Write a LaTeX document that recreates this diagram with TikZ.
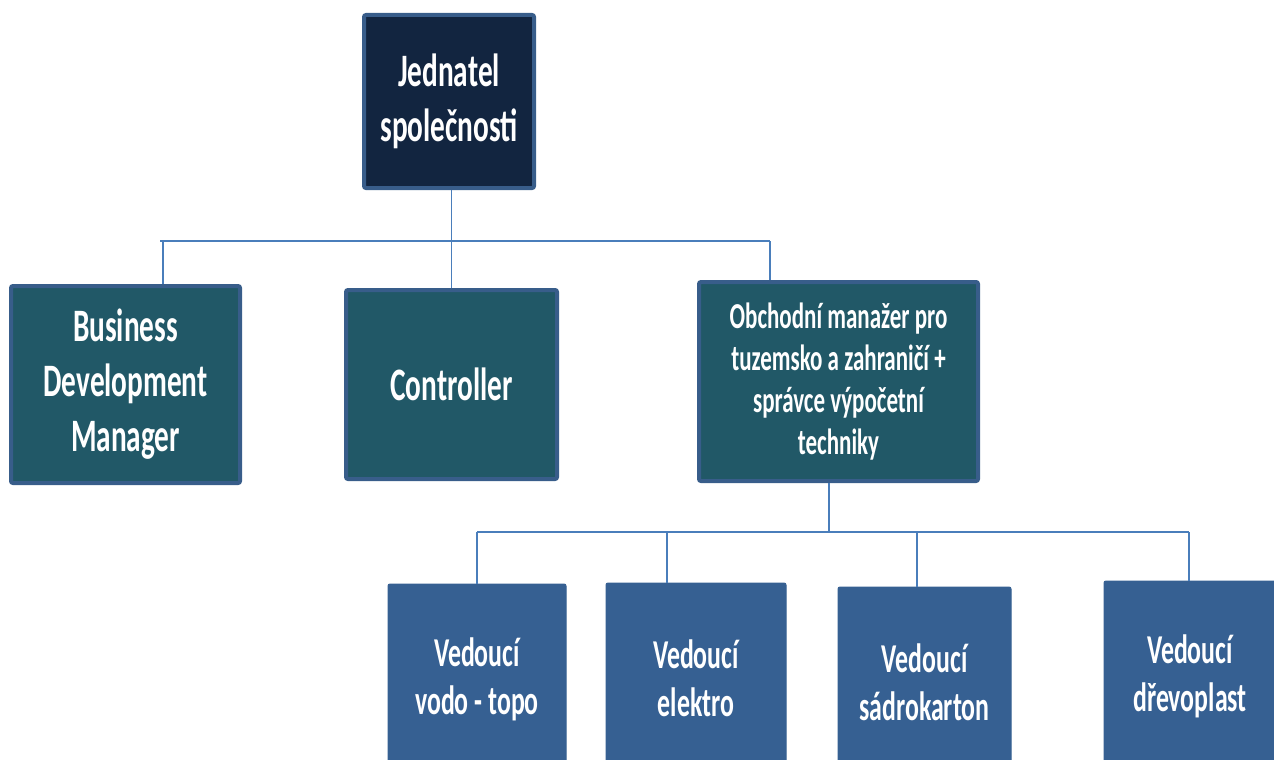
\documentclass[tikz,border=0pt]{standalone}
\usepackage{fontspec}
\setmainfont{Carlito}[FakeStretch=0.63]
\usetikzlibrary{positioning}
\definecolor{Navy}{RGB}{18,37,64}
\definecolor{Teal}{RGB}{33,88,103}
\definecolor{Steel}{RGB}{54,96,146}
\definecolor{Edge}{RGB}{56,93,138}
\definecolor{Wire}{RGB}{74,126,187}

\begin{document}
\begin{tikzpicture}[x=1pt,y=-1pt]
          \tikzset{ boss/.style ={draw=Edge, line width=4pt, fill=Navy, rounded corners=2pt, text=white, align=center, font=\fontsize{46.5}{55}\selectfont\bfseries} }
          \tikzset{ mgr/.style  ={draw=Edge, line width=4pt, fill=Teal, rounded corners=2pt, text=white, align=center} }
          \tikzset{ lead/.style ={draw=Steel, line width=1pt, fill=Steel, rounded corners=2pt, text=white, align=center, minimum height=190pt, font=\fontsize{41}{48}\selectfont\bfseries} }
          \tikzset{ link/.style ={draw=Wire, line width=1.5pt} }

          \useasboundingbox (0,0) rectangle (1274,760);
          \clip (0,0) rectangle (1274,760);

          \node[boss, minimum width=170pt, minimum height=173pt] (ceo) at (449,101.5) {Jednatel\\společnosti};

          \node[mgr, minimum width=229pt, minimum height=197pt, font=\fontsize{46.5}{55}\selectfont\bfseries] (bdm)   at (125.5,384.5) {Business\\Development\\Manager};
          \node[mgr, minimum width=211pt, minimum height=189pt, font=\fontsize{46.5}{55}\selectfont\bfseries] (ctrl)  at (451.5,384.5) {Controller};
          \node[mgr, minimum width=279pt, minimum height=199pt, font=\fontsize{36.5}{42}\selectfont\bfseries] (sales) at (838.5,381.5) {Obchodní manažer pro\\tuzemsko a zahraničí +\\správce výpočetní\\techniky};

          \node[lead, minimum width=178pt] (v1) at (477,679)    {Vedoucí\\vodo - topo};
          \node[lead, minimum width=180pt] (v2) at (696,678)    {Vedoucí\\elektro};
          \node[lead, minimum width=173pt] (v3) at (924.5,682)  {Vedoucí\\sádrokarton};
          \node[lead, minimum width=172pt] (v4) at (1190,676)   {Vedoucí\\dřevoplast};

          % upper level
          \coordinate (busA) at (160,241);
          \coordinate (busB) at (770,241);
          \coordinate (tapA) at (163,241);
          \draw[link] (busA) -- (busB);
          \draw[link] (ctrl.north) -- (ctrl.north |- ceo.south);
          \draw[link] (tapA) -- (tapA |- bdm.north);
          \draw[link] (busB) -- (busB |- sales.north);

          % lower level
          \coordinate (busC) at (477,532);
          \coordinate (busD) at (1189,532);
          \coordinate (tapS) at (829,532);
          \coordinate (tapE) at (667,532);
          \coordinate (tapF) at (917,532);
          \draw[link] (busC) -- (busD);
          \draw[link] (tapS |- sales.south) -- (tapS);
          \draw[link] (busC) -- (v1.north);
          \draw[link] (tapE) -- (tapE |- v2.north);
          \draw[link] (tapF) -- (tapF |- v3.north);
          \draw[link] (busD) -- (busD |- v4.north);
      \end{tikzpicture}
\end{document}
